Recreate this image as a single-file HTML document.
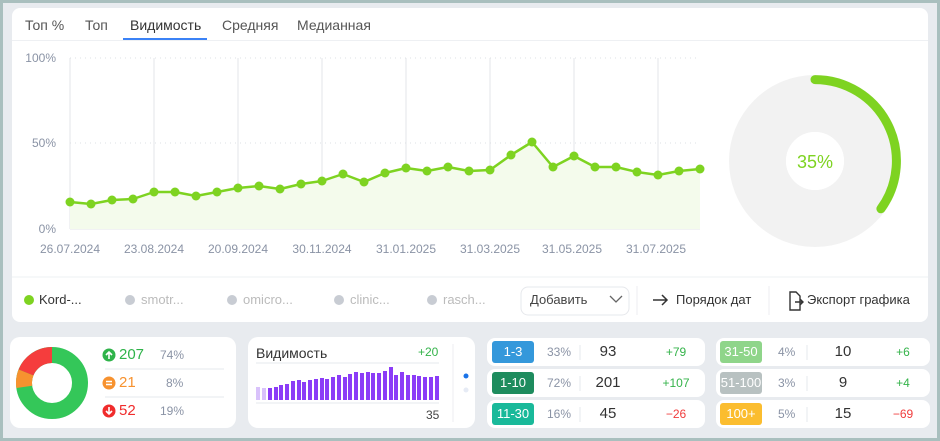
<!DOCTYPE html>
<html><head><meta charset="utf-8">
<style>
*{margin:0;padding:0;box-sizing:border-box}
body{width:940px;height:441px;background:#a9bfbe;font-family:"Liberation Sans","DejaVu Sans",sans-serif;position:relative;overflow:hidden}
.bg{position:absolute;left:3px;top:3px;width:934px;height:435px;background:#e8ebef}
.panel{position:absolute;left:12px;top:8px;width:916px;height:314px;background:#fff;border-radius:8px}
.t{position:absolute;white-space:nowrap}
.card{position:absolute;background:#fff;border-radius:10px}
.badge{position:absolute;width:42px;height:22px;border-radius:3px;color:#fff;font-size:13px;text-align:center;line-height:22px}
</style></head><body>
<div class="bg"></div>
<div class="panel"></div>
<div class="t" style="left:25px;top:17px;font-size:14px;color:#555">Топ %</div>
<div class="t" style="left:85px;top:17px;font-size:14px;color:#555">Топ</div>
<div class="t" style="left:130px;top:17px;font-size:14px;color:#333">Видимость</div>
<div class="t" style="left:222px;top:17px;font-size:14px;color:#555">Средняя</div>
<div class="t" style="left:297px;top:17px;font-size:14px;color:#555">Медианная</div>
<div style="position:absolute;left:12px;top:40px;width:916px;height:1px;background:#eef0f3"></div>
<div style="position:absolute;left:123px;top:38px;width:84px;height:2px;background:#3b82f6"></div>

<svg style="position:absolute;left:0;top:0" width="940" height="441">
<g stroke="#e3e5e8" stroke-width="1">
<line x1="70" y1="58" x2="70" y2="229"/><line x1="154" y1="58" x2="154" y2="229"/><line x1="238" y1="58" x2="238" y2="229"/><line x1="322" y1="58" x2="322" y2="229"/><line x1="406" y1="58" x2="406" y2="229"/><line x1="490" y1="58" x2="490" y2="229"/><line x1="574" y1="58" x2="574" y2="229"/><line x1="658" y1="58" x2="658" y2="229"/>
</g>
<g stroke="#dde0e4" stroke-dasharray="1 4"><line x1="70" y1="58" x2="700" y2="58"/><line x1="70" y1="143" x2="700" y2="143"/></g>
<line x1="70" y1="229" x2="700" y2="229" stroke="#e3e5e8"/>
<polygon fill="#f4fbec" points="70,229 70,202 91,204 112,200 133,199 154,192 175,192 196,196 217,192 238,188 259,186 280,189 301,184 322,181 343,174 364,182 385,173 406,168 427,171 448,167 469,171 490,170 511,155 532,142 553,167 574,156 595,167 616,167 637,172 658,175 679,171 700,169 700,229"/>
<polyline fill="none" stroke="#7ed321" stroke-width="2.5" stroke-linejoin="round" points="70,202 91,204 112,200 133,199 154,192 175,192 196,196 217,192 238,188 259,186 280,189 301,184 322,181 343,174 364,182 385,173 406,168 427,171 448,167 469,171 490,170 511,155 532,142 553,167 574,156 595,167 616,167 637,172 658,175 679,171 700,169"/>
<g fill="#7ed321">
<circle cx="70" cy="202" r="4.5"/><circle cx="91" cy="204" r="4.5"/><circle cx="112" cy="200" r="4.5"/><circle cx="133" cy="199" r="4.5"/><circle cx="154" cy="192" r="4.5"/><circle cx="175" cy="192" r="4.5"/><circle cx="196" cy="196" r="4.5"/><circle cx="217" cy="192" r="4.5"/><circle cx="238" cy="188" r="4.5"/><circle cx="259" cy="186" r="4.5"/><circle cx="280" cy="189" r="4.5"/><circle cx="301" cy="184" r="4.5"/><circle cx="322" cy="181" r="4.5"/><circle cx="343" cy="174" r="4.5"/><circle cx="364" cy="182" r="4.5"/><circle cx="385" cy="173" r="4.5"/><circle cx="406" cy="168" r="4.5"/><circle cx="427" cy="171" r="4.5"/><circle cx="448" cy="167" r="4.5"/><circle cx="469" cy="171" r="4.5"/><circle cx="490" cy="170" r="4.5"/><circle cx="511" cy="155" r="4.5"/><circle cx="532" cy="142" r="4.5"/><circle cx="553" cy="167" r="4.5"/><circle cx="574" cy="156" r="4.5"/><circle cx="595" cy="167" r="4.5"/><circle cx="616" cy="167" r="4.5"/><circle cx="637" cy="172" r="4.5"/><circle cx="658" cy="175" r="4.5"/><circle cx="679" cy="171" r="4.5"/><circle cx="700" cy="169" r="4.5"/>
</g>
<g font-size="12" fill="#8a93a5" font-family="Liberation Sans,sans-serif">
<text x="56" y="62" text-anchor="end">100%</text><text x="56" y="147" text-anchor="end">50%</text><text x="56" y="233" text-anchor="end">0%</text>
<g text-anchor="middle"><text x="70" y="253">26.07.2024</text><text x="154" y="253">23.08.2024</text><text x="238" y="253">20.09.2024</text><text x="322" y="253">30.11.2024</text><text x="406" y="253">31.01.2025</text><text x="490" y="253">31.03.2025</text><text x="572" y="253">31.05.2025</text><text x="656" y="253">31.07.2025</text></g>
</g>
<circle cx="815" cy="161" r="57.5" fill="none" stroke="#f2f2f2" stroke-width="57"/>
<circle cx="815" cy="161" r="29" fill="#fff"/>
<path d="M815,79.6 A81.4,81.4 0 0 1 880.9,208.8" fill="none" stroke="#7ed321" stroke-width="9" stroke-linecap="round"/>
<text x="815" y="168" text-anchor="middle" font-size="18" fill="#7ed321" font-family="Liberation Sans,sans-serif">35%</text>
<line x1="12" y1="277" x2="928" y2="277" stroke="#eef0f3"/>
<circle cx="29" cy="300" r="5" fill="#7ed321"/>
<g fill="#c8ccd3"><circle cx="130" cy="300" r="5"/><circle cx="232" cy="300" r="5"/><circle cx="339" cy="300" r="5"/><circle cx="432" cy="300" r="5"/></g>
<rect x="521" y="287" width="108" height="28" rx="7" fill="#fff" stroke="#e6e8ec"/>
<path d="M610,296 l6,6 l6,-6" fill="none" stroke="#666" stroke-width="1.3"/>
<line x1="637" y1="286" x2="637" y2="315" stroke="#eceef1"/><line x1="769" y1="286" x2="769" y2="315" stroke="#eceef1"/>
<path d="M653,300 h14 M662,295 l5,5 l-5,5" fill="none" stroke="#333" stroke-width="1.5"/>
<path d="M790,292 h6 l4,4 v14 h-10 z M795,302 h8 M800,299 l3,3 l-3,3" fill="none" stroke="#333" stroke-width="1.4"/>
</svg>
<div class="t" style="left:39px;top:292px;font-size:13px;color:#333">Kord-...</div>
<div class="t" style="left:141px;top:292px;font-size:13px;color:#bbb">smotr...</div>
<div class="t" style="left:243px;top:292px;font-size:13px;color:#bbb">omicro...</div>
<div class="t" style="left:350px;top:292px;font-size:13px;color:#bbb">clinic...</div>
<div class="t" style="left:443px;top:292px;font-size:13px;color:#bbb">rasch...</div>
<div class="t" style="left:530px;top:292px;font-size:13px;color:#444">Добавить</div>
<div class="t" style="left:676px;top:292px;font-size:13px;color:#333">Порядок дат</div>
<div class="t" style="left:807px;top:292px;font-size:13px;color:#333">Экспорт графика</div>

<!-- cards -->
<div class="card" style="left:10px;top:337px;width:226px;height:91px"></div>
<div class="card" style="left:248px;top:337px;width:227px;height:91px"></div>
<svg style="position:absolute;left:0;top:0" width="940" height="441">
<g fill="none" stroke-width="16">
<circle cx="52" cy="383" r="28" stroke="#34c759"/>
<path d="M52,355 A28,28 0 0 0 26.0,372.5" stroke="#f53d3d"/>
<path d="M26.0,372.5 A28,28 0 0 0 24.3,386.9" stroke="#f7922f"/>
</g>
<circle cx="109" cy="355" r="6.5" fill="#2fb34a"/><path d="M109,359 v-7 M106,355 l3,-3 l3,3" stroke="#fff" stroke-width="1.6" fill="none"/>
<circle cx="109" cy="383" r="6.5" fill="#f7922f"/><path d="M106,381.5 h6 M106,384.5 h6" stroke="#fff" stroke-width="1.5"/>
<circle cx="109" cy="411" r="6.5" fill="#f02c2c"/><path d="M109,407 v7 M106,411 l3,3 l3,-3" stroke="#fff" stroke-width="1.6" fill="none"/>
<line x1="105" y1="369" x2="224" y2="369" stroke="#e6e8ec"/><line x1="105" y1="397" x2="224" y2="397" stroke="#e6e8ec"/>
<line x1="256" y1="363" x2="439" y2="363" stroke="#e6e8ec"/><line x1="256" y1="403" x2="439" y2="403" stroke="#e6e8ec"/>
<line x1="453" y1="344" x2="453" y2="422" stroke="#eceef1"/>
<circle cx="466" cy="376" r="2.5" fill="#1a73e8"/><circle cx="466" cy="390" r="2.5" fill="#e6ebf5"/>
<g fill="#8b3cf7">
<rect x="256" y="387" width="4" height="13" fill="#d9c2fb"/><rect x="262" y="388" width="4" height="12" fill="#d9c2fb"/>
<rect x="268" y="388" width="4" height="12"/><rect x="274" y="387" width="4" height="13"/><rect x="279" y="385" width="4" height="15"/><rect x="285" y="384" width="4" height="16"/><rect x="291" y="381" width="4" height="19"/><rect x="297" y="380" width="4" height="20"/><rect x="302" y="382" width="4" height="18"/><rect x="308" y="380" width="4" height="20"/><rect x="314" y="379" width="4" height="21"/><rect x="320" y="378" width="4" height="22"/><rect x="325" y="379" width="4" height="21"/><rect x="331" y="377" width="4" height="23"/><rect x="337" y="375" width="4" height="25"/><rect x="343" y="377" width="4" height="23"/><rect x="348" y="374" width="4" height="26"/><rect x="354" y="372" width="4" height="28"/><rect x="360" y="373" width="4" height="27"/><rect x="366" y="372" width="4" height="28"/><rect x="371" y="373" width="4" height="27"/><rect x="377" y="373" width="4" height="27"/><rect x="383" y="371" width="4" height="29"/><rect x="389" y="367" width="4" height="33"/><rect x="394" y="375" width="4" height="25"/><rect x="400" y="372" width="4" height="28"/><rect x="406" y="375" width="4" height="25"/><rect x="412" y="375" width="4" height="25"/><rect x="417" y="376" width="4" height="24"/><rect x="423" y="377" width="4" height="23"/><rect x="429" y="377" width="4" height="23"/><rect x="435" y="376" width="4" height="24"/>
</g>
</svg>
<div class="t" style="left:119px;top:346px;font-size:15px;color:#2fb34a">207</div>
<div class="t" style="left:160px;top:348px;font-size:12px;color:#8a93a5">74%</div>
<div class="t" style="left:119px;top:374px;font-size:15px;color:#f7922f">21</div>
<div class="t" style="left:166px;top:376px;font-size:12px;color:#8a93a5">8%</div>
<div class="t" style="left:119px;top:402px;font-size:15px;color:#f02c2c">52</div>
<div class="t" style="left:160px;top:404px;font-size:12px;color:#8a93a5">19%</div>

<div class="t" style="left:256px;top:345px;font-size:14px;color:#333">Видимость</div>
<div class="t" style="left:418px;top:345px;font-size:12px;color:#34b34a">+20</div>
<div class="t" style="left:426px;top:408px;font-size:12px;color:#444">35</div>

<!-- rows -->
<div class="card" style="left:487px;top:338px;width:218px;height:28px;border-radius:8px"></div>
<div class="card" style="left:487px;top:369px;width:218px;height:28px;border-radius:8px"></div>
<div class="card" style="left:487px;top:400px;width:218px;height:28px;border-radius:8px"></div>
<div class="card" style="left:716px;top:338px;width:214px;height:28px;border-radius:8px"></div>
<div class="card" style="left:716px;top:369px;width:214px;height:28px;border-radius:8px"></div>
<div class="card" style="left:716px;top:400px;width:214px;height:28px;border-radius:8px"></div>
<div class="badge" style="left:492px;top:341px;background:#3498db">1-3</div>
<div class="badge" style="left:492px;top:372px;background:#1e8c5e">1-10</div>
<div class="badge" style="left:492px;top:403px;background:#19b99a">11-30</div>
<div class="badge" style="left:720px;top:341px;background:#8fd58a">31-50</div>
<div class="badge" style="left:720px;top:372px;background:#b8c1c1">51-100</div>
<div class="badge" style="left:720px;top:403px;background:#fbbd2f">100+</div>
<svg style="position:absolute;left:0;top:0" width="940" height="441"><g stroke="#e6e8ec"><line x1="580" y1="345" x2="580" y2="360"/><line x1="580" y1="376" x2="580" y2="391"/><line x1="580" y1="407" x2="580" y2="422"/><line x1="807" y1="345" x2="807" y2="360"/><line x1="807" y1="376" x2="807" y2="391"/><line x1="807" y1="407" x2="807" y2="422"/></g></svg>
<div class="t" style="left:547px;top:345px;font-size:12px;color:#8a93a5">33%</div>
<div class="t" style="left:547px;top:376px;font-size:12px;color:#8a93a5">72%</div>
<div class="t" style="left:547px;top:407px;font-size:12px;color:#8a93a5">16%</div>
<div class="t" style="left:778px;top:345px;font-size:12px;color:#8a93a5">4%</div>
<div class="t" style="left:778px;top:376px;font-size:12px;color:#8a93a5">3%</div>
<div class="t" style="left:778px;top:407px;font-size:12px;color:#8a93a5">5%</div>
<div class="t" style="left:583px;width:50px;text-align:center;top:343px;font-size:15px;color:#333">93</div>
<div class="t" style="left:583px;width:50px;text-align:center;top:374px;font-size:15px;color:#333">201</div>
<div class="t" style="left:583px;width:50px;text-align:center;top:405px;font-size:15px;color:#333">45</div>
<div class="t" style="left:818px;width:50px;text-align:center;top:343px;font-size:15px;color:#333">10</div>
<div class="t" style="left:818px;width:50px;text-align:center;top:374px;font-size:15px;color:#333">9</div>
<div class="t" style="left:818px;width:50px;text-align:center;top:405px;font-size:15px;color:#333">15</div>
<div class="t" style="left:651px;width:50px;text-align:center;top:345px;font-size:12px;color:#34b34a">+79</div>
<div class="t" style="left:651px;width:50px;text-align:center;top:376px;font-size:12px;color:#34b34a">+107</div>
<div class="t" style="left:651px;width:50px;text-align:center;top:407px;font-size:12px;color:#f03c3c">−26</div>
<div class="t" style="left:878px;width:50px;text-align:center;top:345px;font-size:12px;color:#34b34a">+6</div>
<div class="t" style="left:878px;width:50px;text-align:center;top:376px;font-size:12px;color:#34b34a">+4</div>
<div class="t" style="left:878px;width:50px;text-align:center;top:407px;font-size:12px;color:#f03c3c">−69</div>
</body></html>
